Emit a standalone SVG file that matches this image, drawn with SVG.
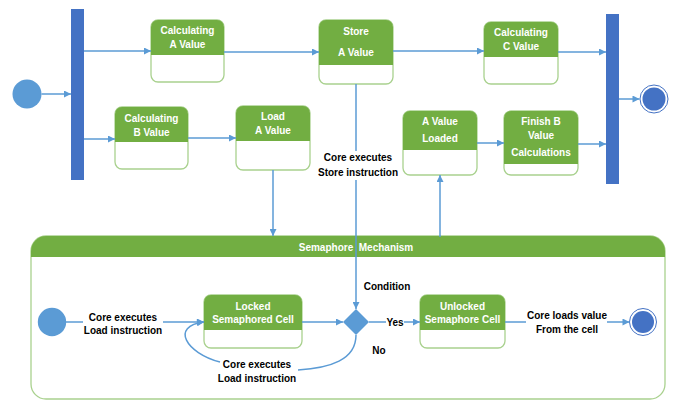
<svg xmlns="http://www.w3.org/2000/svg" width="678" height="400" viewBox="0 0 678 400">
<defs>
<marker id="ah" viewBox="0 0 10 10" refX="10" refY="5" markerWidth="8" markerHeight="7" markerUnits="userSpaceOnUse" orient="auto">
<path d="M0,0 L10,5 L0,10 Z" fill="#5B9BD5"/>
</marker>
<style>
.box{fill:#fff;stroke:#A9D18E;stroke-width:1.3}
.hd{fill:#72AE42}
.ht{font-family:"Liberation Sans",Arial,sans-serif;font-size:10px;font-weight:bold;fill:#fff;text-anchor:middle}
.lb{font-family:"Liberation Sans",Arial,sans-serif;font-size:10px;font-weight:bold;fill:#000;text-anchor:middle}
.c{fill:none;stroke:#5B9BD5;stroke-width:1.5}
.ca{fill:none;stroke:#5B9BD5;stroke-width:1.5;marker-end:url(#ah)}
.bar{fill:#4472C4}
</style>
</defs>
<rect width="678" height="400" fill="#fff"/>

<g id="semaphore">
<rect x="31" y="236" width="634" height="163" rx="15" fill="#fff" stroke="#A9D18E" stroke-width="1.3"/>
<path class="hd" d="M31,257 V251 A15,15 0 0 1 46,236 H650 A15,15 0 0 1 665,251 V257 Z"/>
<text class="ht" x="356" y="250.5">Semaphore&#160; Mechanism</text>
</g>

<g id="start"><circle cx="27" cy="94" r="14.5" fill="#5B9BD5"/></g>
<g id="fork"><rect class="bar" x="71" y="9" width="13" height="171"/></g>
<g id="join"><rect class="bar" x="606" y="14" width="13" height="170"/></g>
<g id="end"><circle cx="654" cy="99" r="14" fill="#fff" stroke="#4472C4" stroke-width="1"/><circle cx="654" cy="99" r="11.5" fill="#4472C4"/></g>

<g id="calcA">
<rect class="box" x="151" y="20" width="73" height="62" rx="7"/>
<path class="hd" d="M151,27 A7,7 0 0 1 158,20 H217 A7,7 0 0 1 224,27 V55 H151 Z"/>
<text class="ht" x="187.5" y="33.5">Calculating</text>
<text class="ht" x="187.5" y="47.5">A Value</text>
</g>
<g id="storeA">
<rect class="box" x="319" y="20" width="74" height="64" rx="7"/>
<path class="hd" d="M319,27 A7,7 0 0 1 326,20 H386 A7,7 0 0 1 393,27 V65 H319 Z"/>
<text class="ht" x="356" y="34.5">Store</text>
<text class="ht" x="356" y="55.5">A Value</text>
</g>
<g id="calcC">
<rect class="box" x="484" y="22" width="74" height="62" rx="7"/>
<path class="hd" d="M484,29 A7,7 0 0 1 491,22 H551 A7,7 0 0 1 558,29 V57 H484 Z"/>
<text class="ht" x="521" y="35.5">Calculating</text>
<text class="ht" x="521" y="49.5">C Value</text>
</g>
<g id="calcB">
<rect class="box" x="115" y="107" width="73" height="62" rx="7"/>
<path class="hd" d="M115,114 A7,7 0 0 1 122,107 H181 A7,7 0 0 1 188,114 V142 H115 Z"/>
<text class="ht" x="151.5" y="121.5">Calculating</text>
<text class="ht" x="151.5" y="135.5">B Value</text>
</g>
<g id="loadA">
<rect class="box" x="236" y="106" width="74" height="64" rx="7"/>
<path class="hd" d="M236,113 A7,7 0 0 1 243,106 H303 A7,7 0 0 1 310,113 V141 H236 Z"/>
<text class="ht" x="273" y="119.5">Load</text>
<text class="ht" x="273" y="133.5">A Value</text>
</g>
<g id="loaded">
<rect class="box" x="403" y="111" width="74" height="64" rx="7"/>
<path class="hd" d="M403,118 A7,7 0 0 1 410,111 H470 A7,7 0 0 1 477,118 V150 H403 Z"/>
<text class="ht" x="440" y="124.5">A Value</text>
<text class="ht" x="440" y="141.5">Loaded</text>
</g>
<g id="finishB">
<rect class="box" x="504" y="111" width="74" height="64" rx="7"/>
<path class="hd" d="M504,118 A7,7 0 0 1 511,111 H571 A7,7 0 0 1 578,118 V164 H504 Z"/>
<text class="ht" x="541" y="124.5">Finish B</text>
<text class="ht" x="541" y="138.5">Value</text>
<text class="ht" x="541" y="155.5">Calculations</text>
</g>

<g id="start2"><circle cx="52" cy="322" r="14.2" fill="#5B9BD5"/></g>
<g id="locked">
<rect class="box" x="204" y="295" width="98" height="53" rx="7"/>
<path class="hd" d="M204,302 A7,7 0 0 1 211,295 H295 A7,7 0 0 1 302,302 V330 H204 Z"/>
<text class="ht" x="253" y="309.5">Locked</text>
<text class="ht" x="253" y="322.5">Semaphored Cell</text>
</g>
<g id="decision"><path d="M356,309 L369,322 L356,335 L343,322 Z" fill="#5B9BD5"/></g>
<g id="unlocked">
<rect class="box" x="420" y="295" width="85" height="53" rx="7"/>
<path class="hd" d="M420,302 A7,7 0 0 1 427,295 H498 A7,7 0 0 1 505,302 V330 H420 Z"/>
<text class="ht" x="462.5" y="309.5">Unlocked</text>
<text class="ht" x="462.5" y="322.5">Semaphore Cell</text>
</g>
<g id="end2"><circle cx="643" cy="322" r="13.5" fill="#fff" stroke="#4472C4" stroke-width="1"/><circle cx="643" cy="322" r="11" fill="#4472C4"/></g>

<g id="connectors">
<line class="ca" x1="41.5" y1="94" x2="71" y2="94"/>
<line class="ca" x1="84" y1="51" x2="151" y2="51"/>
<line class="ca" x1="84" y1="139" x2="115" y2="139"/>
<line class="ca" x1="224" y1="52" x2="319" y2="52"/>
<line class="ca" x1="393" y1="51" x2="484" y2="51"/>
<line class="ca" x1="558" y1="52" x2="606" y2="52"/>
<line class="ca" x1="188" y1="138" x2="236" y2="138"/>
<line class="ca" x1="477" y1="143" x2="504" y2="143"/>
<line class="ca" x1="578" y1="144" x2="606" y2="144"/>
<line class="ca" x1="619" y1="99" x2="639.5" y2="99"/>
<line class="ca" x1="273" y1="170" x2="273" y2="236"/>
<line class="ca" x1="440" y1="237" x2="440" y2="175"/>
<line class="c" x1="356" y1="84" x2="356" y2="151"/>
<line class="ca" x1="356" y1="180" x2="356" y2="309"/>
<line class="c" x1="66" y1="322" x2="83" y2="322"/>
<line class="ca" x1="163" y1="322" x2="204" y2="322"/>
<line class="ca" x1="302" y1="322" x2="343" y2="322"/>
<line class="c" x1="369" y1="322" x2="386" y2="322"/>
<line class="ca" x1="404" y1="322" x2="420" y2="322"/>
<line class="c" x1="505" y1="322" x2="526" y2="322"/>
<line class="ca" x1="607" y1="322" x2="629.5" y2="322"/>
<path class="c" d="M356,335 C356,360 330,368 298,370"/>
<path class="ca" d="M220,362 C186,353 170,326 204,322"/>
</g>

<g id="labels">
<text class="lb" x="358" y="160.5">Core executes</text>
<text class="lb" x="358" y="175.5">Store instruction</text>
<text class="lb" x="123" y="320.5">Core executes</text>
<text class="lb" x="123" y="333.5">Load instruction</text>
<text class="lb" x="387" y="289.5">Condition</text>
<text class="lb" x="395" y="325.5">Yes</text>
<text class="lb" x="379" y="353.5">No</text>
<text class="lb" x="567" y="318.5">Core loads value</text>
<text class="lb" x="567" y="332.5">From the cell</text>
<text class="lb" x="257" y="367.5">Core executes</text>
<text class="lb" x="257" y="381.5">Load instruction</text>
</g>
</svg>
